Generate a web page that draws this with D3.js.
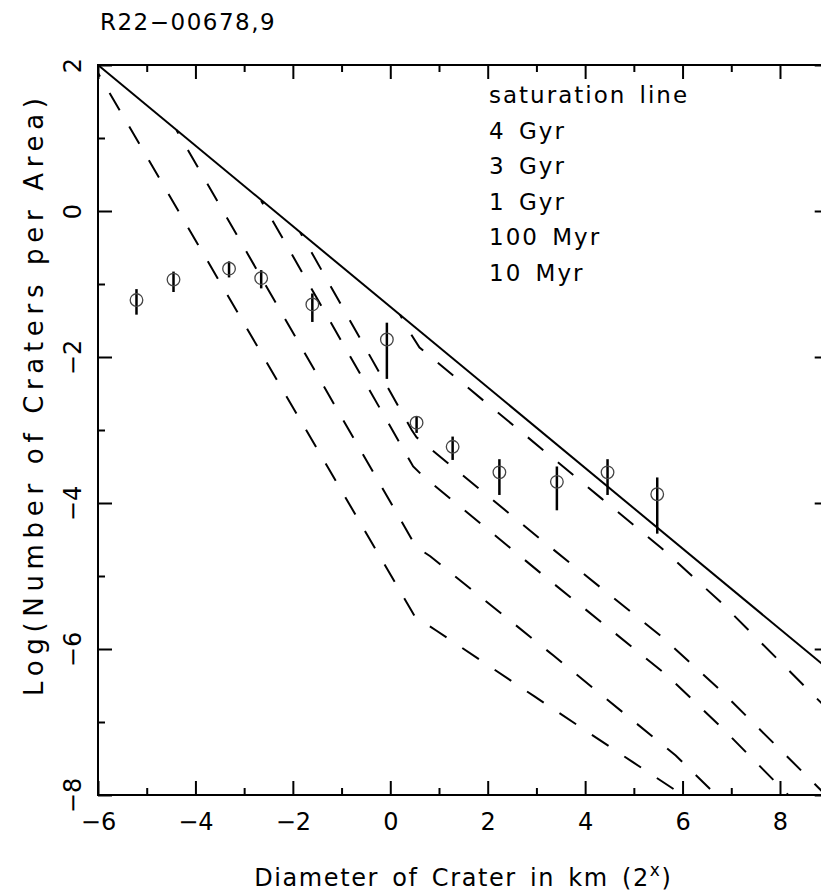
<!DOCTYPE html>
<html>
<head>
<meta charset="utf-8">
<script src="https://cdn.jsdelivr.net/npm/d3@7"></script>
<style>
  body { margin: 0; background: #fff; }
  svg text { font-family: "DejaVu Sans", sans-serif; fill: #000; }
</style>
</head>
<body>
<svg id="chart" width="821" height="896"></svg>
<script>
// ---------------------------------------------------------------------------
// Data
// ---------------------------------------------------------------------------
const chartTitle = "R22\u221200678,9";
const xLabel = "Diameter of Crater in km (2";
const yLabel = "Log(Number of Craters per Area)";

const xTicks = [-6, -4, -2, 0, 2, 4, 6, 8];
const xMinor = [-5, -3, -1, 1, 3, 5, 7, 9];
const yTicks = [-8, -6, -4, -2, 0, 2];
const yMinor = [-7, -5, -3, -1, 1];

// measured crater counts with error bars
const craterX  = [-5.21, -4.45, -3.31, -2.65, -1.60, -0.07, 0.54, 1.28, 2.24, 3.42, 4.46, 5.48];
const craterY  = [-1.22, -0.94, -0.79, -0.92, -1.28, -1.76, -2.90, -3.23, -3.58, -3.71, -3.58, -3.88];
const craterLo = [-1.42, -1.11, -0.91, -1.06, -1.52, -2.30, -3.04, -3.41, -3.89, -4.10, -3.89, -4.42];
const craterHi = [-1.07, -0.83, -0.69, -0.81, -1.13, -1.53, -2.81, -3.09, -3.40, -3.50, -3.40, -3.65];

// saturation line (solid)
const saturation = [[-6, 2], [9, -6.28]];

// isochrons (dashed)
const iso4Gyr   = [[0.2, -1.42], [0.41, -1.67], [0.6, -1.87], [4.34, -3.94], [5.57, -4.62], [6.77, -5.35], [8.79, -6.70], [9, -6.84]];
const iso3Gyr   = [[-1.85, -0.29], [0.44, -3.0], [0.54, -3.10], [3.11, -4.51], [5.57, -5.83], [6.77, -6.56], [8.79, -7.90], [9, -8.04]];
const iso1Gyr   = [[-2.65, 0.14], [0.47, -3.50], [0.67, -3.63], [3.16, -5.0], [5.68, -6.36], [6.84, -7.10], [8.17, -8.0]];
const iso100Myr = [[-4.39, 1.11], [0.53, -4.60], [0.82, -4.73], [3.35, -6.09], [5.86, -7.46], [6.69, -8.0]];
const iso10Myr  = [[-6, 1.89], [0.5, -5.55], [0.95, -5.75], [2.96, -6.65], [4.98, -7.55], [6.0, -8.0]];

const legendLabels = ["saturation line", "4 Gyr", "3 Gyr", "1 Gyr", "100 Myr", "10 Myr"];

// ---------------------------------------------------------------------------
// Layout
// ---------------------------------------------------------------------------
const svg = d3.select('#chart');
const margin = { left: 98, top: 65 };
const plotW = 730.7;
const plotH = 730;

const x = d3.scaleLinear().domain([-6, 9]).range([margin.left, margin.left + plotW]);
const y = d3.scaleLinear().domain([-8, 2]).range([margin.top + plotH, margin.top]);

svg.append('defs').append('clipPath').attr('id', 'plot-clip')
    .append('rect')
    .attr('x', x(-6)).attr('y', y(2))
    .attr('width', x(9) - x(-6)).attr('height', y(-8) - y(2));

// title
svg.append('text')
    .attr('x', 100).attr('y', 30)
    .style('font-size', '23px')
    .style('letter-spacing', '1.5px')
    .text(chartTitle);

// ---------------------------------------------------------------------------
// Axes (ticks pointing inwards on all four sides)
// ---------------------------------------------------------------------------
function styleAxis(sel) {
    sel.select('.domain').remove();
    sel.selectAll('.tick line').attr('stroke', '#000').attr('stroke-width', 2);
}

const axB = svg.append('g').attr('transform', `translate(0,${y(-8)})`)
    .call(d3.axisBottom(x).tickValues(xTicks).tickSize(-14).tickPadding(18));
axB.call(styleAxis);
axB.selectAll('text').style('font-size', '24px').style('font-family', '"DejaVu Sans", sans-serif');

svg.append('g').attr('transform', `translate(0,${y(-8)})`)
    .call(d3.axisBottom(x).tickValues(xMinor).tickSize(-7).tickFormat(''))
    .call(styleAxis);

svg.append('g').attr('transform', `translate(0,${y(2)})`)
    .call(d3.axisTop(x).tickValues(xTicks).tickSize(-14).tickFormat(''))
    .call(styleAxis);
svg.append('g').attr('transform', `translate(0,${y(2)})`)
    .call(d3.axisTop(x).tickValues(xMinor).tickSize(-7).tickFormat(''))
    .call(styleAxis);

const axL = svg.append('g').attr('transform', `translate(${x(-6)},0)`)
    .call(d3.axisLeft(y).tickValues(yTicks).tickSize(-14));
axL.call(styleAxis);
axL.selectAll('text')
    .style('font-size', '24px').style('font-family', '"DejaVu Sans", sans-serif')
    .attr('x', null).attr('dy', null)
    .attr('text-anchor', 'middle')
    .attr('transform', 'translate(-17,0) rotate(-90)');

svg.append('g').attr('transform', `translate(${x(-6)},0)`)
    .call(d3.axisLeft(y).tickValues(yMinor).tickSize(-7).tickFormat(''))
    .call(styleAxis);

svg.append('g').attr('transform', `translate(${x(9)},0)`)
    .call(d3.axisRight(y).tickValues(yTicks).tickSize(-14).tickFormat(''))
    .call(styleAxis);
svg.append('g').attr('transform', `translate(${x(9)},0)`)
    .call(d3.axisRight(y).tickValues(yMinor).tickSize(-7).tickFormat(''))
    .call(styleAxis);

// frame
svg.append('rect')
    .attr('x', x(-6)).attr('y', y(2))
    .attr('width', x(9) - x(-6)).attr('height', y(-8) - y(2))
    .attr('fill', 'none').attr('stroke', '#000').attr('stroke-width', 2);

// axis labels
const xl = svg.append('text')
    .attr('x', (x(-6) + x(9)) / 2).attr('y', 886)
    .attr('text-anchor', 'middle')
    .style('font-size', '24px')
    .style('letter-spacing', '1.6px')
    .style('word-spacing', '4px');
xl.append('tspan').text(xLabel);
xl.append('tspan').attr('dy', -10).style('font-size', '17px').text('x');
xl.append('tspan').attr('dy', 10).text(')');

svg.append('text')
    .attr('transform', 'translate(43,397) rotate(-90)')
    .attr('text-anchor', 'middle')
    .attr('textLength', 598)
    .attr('lengthAdjust', 'spacing')
    .style('font-size', '26px')
    .text(yLabel);

// ---------------------------------------------------------------------------
// Lines
// ---------------------------------------------------------------------------
const plot = svg.append('g').attr('clip-path', 'url(#plot-clip)');
const line = d3.line().x(d => x(d[0])).y(d => y(d[1]));

plot.append('path')
    .datum(saturation)
    .attr('d', line)
    .attr('fill', 'none').attr('stroke', '#000').attr('stroke-width', 2);

[iso4Gyr, iso3Gyr, iso1Gyr, iso100Myr, iso10Myr].forEach(function(iso) {
    plot.append('path')
        .datum(iso)
        .attr('d', line)
        .attr('fill', 'none').attr('stroke', '#000').attr('stroke-width', 2)
        .attr('stroke-dasharray', '20 19')
        .attr('stroke-dashoffset', 16);
});

// ---------------------------------------------------------------------------
// Crater counts
// ---------------------------------------------------------------------------
const pts = craterX.map((v, i) => ({ x: v, y: craterY[i], lo: craterLo[i], hi: craterHi[i] }));

plot.selectAll('.err')
    .data(pts).enter().append('line')
    .attr('class', 'err')
    .attr('x1', d => x(d.x)).attr('x2', d => x(d.x))
    .attr('y1', d => y(d.lo)).attr('y2', d => y(d.hi))
    .attr('stroke', '#000').attr('stroke-width', 2.5);

plot.selectAll('.pt')
    .data(pts).enter().append('circle')
    .attr('class', 'pt')
    .attr('cx', d => x(d.x)).attr('cy', d => y(d.y))
    .attr('r', 6.3)
    .attr('fill', 'none').attr('stroke', '#444').attr('stroke-width', 1.3);

// ---------------------------------------------------------------------------
// Legend (text only)
// ---------------------------------------------------------------------------
svg.selectAll('.legend')
    .data(legendLabels).enter().append('text')
    .attr('class', 'legend')
    .attr('x', 489)
    .attr('y', (d, i) => 103 + i * 35.5)
    .style('font-size', '23px')
    .style('letter-spacing', '2px')
    .style('word-spacing', '4px')
    .text(d => d);
</script>
</body>
</html>
